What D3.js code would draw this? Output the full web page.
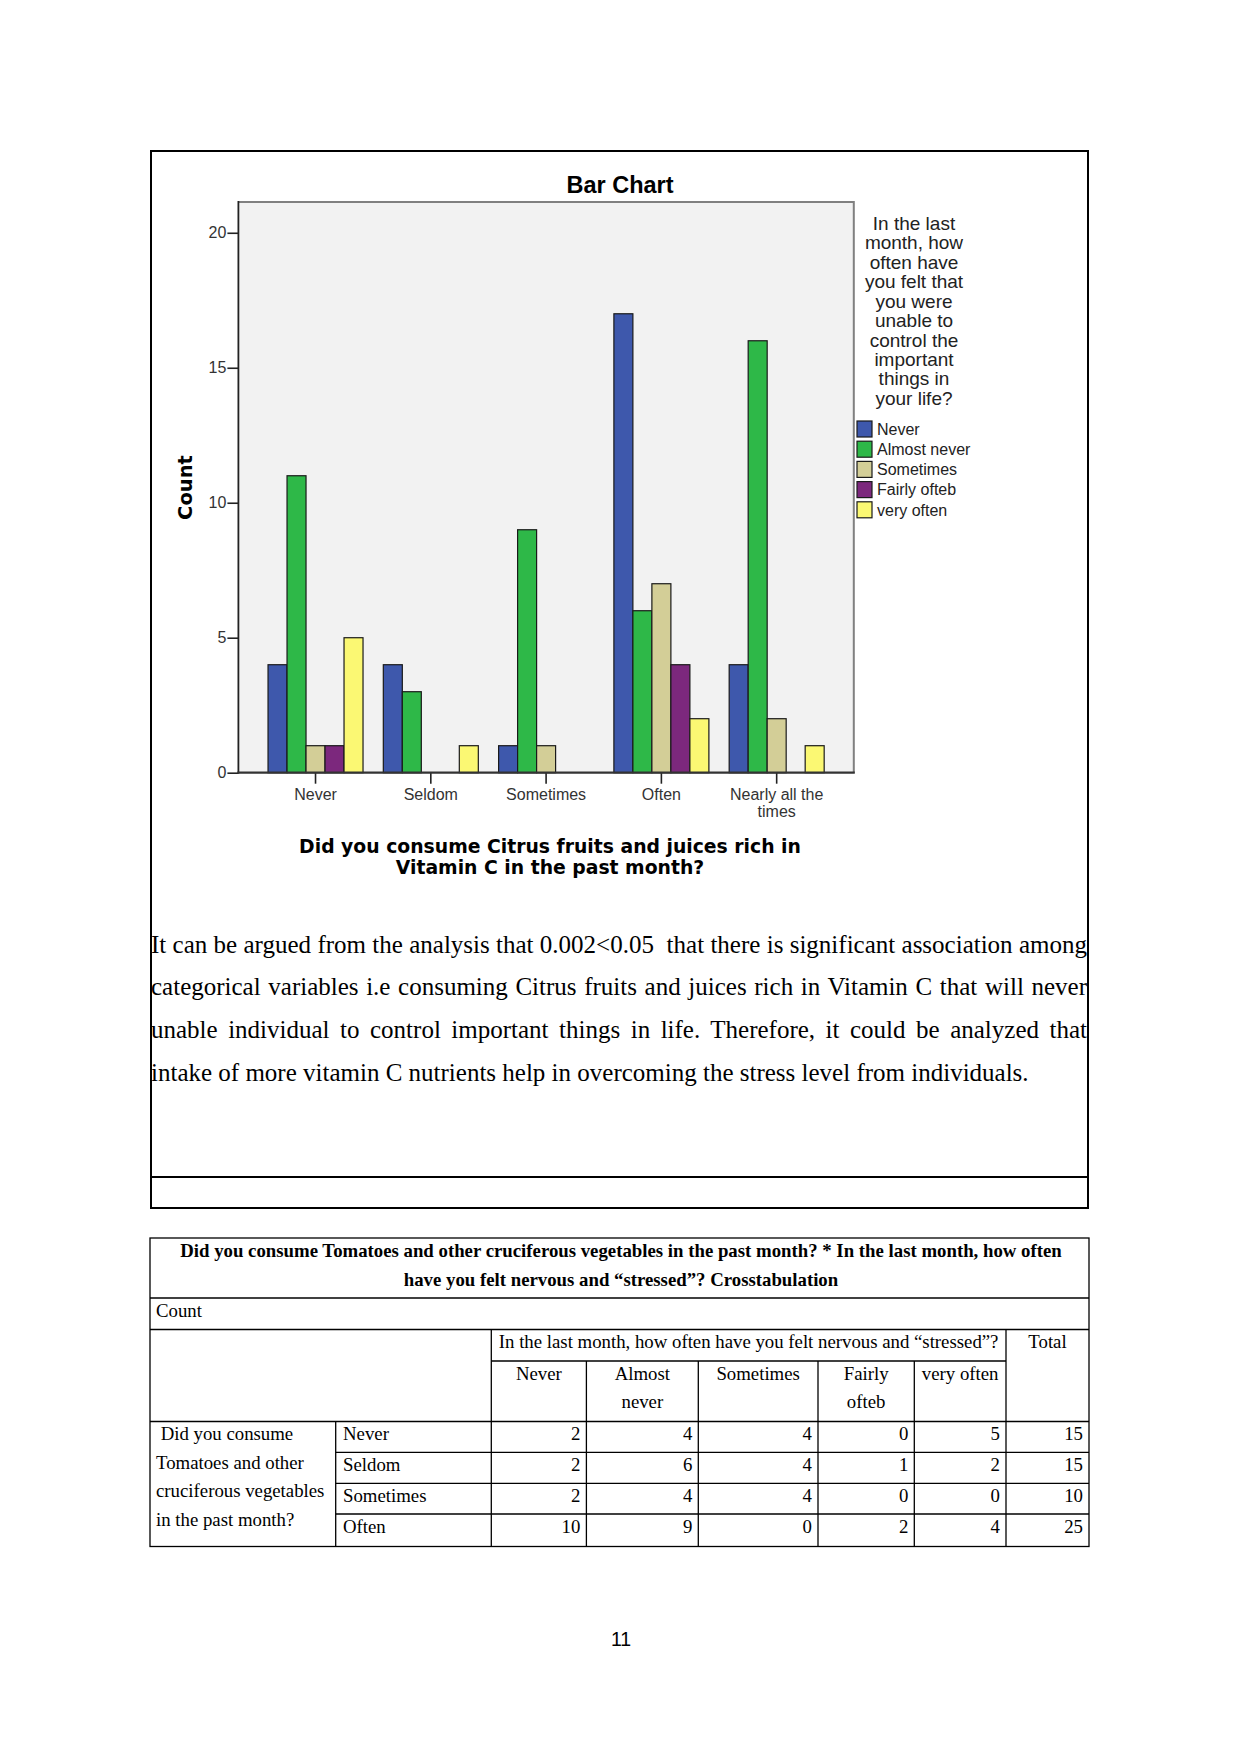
<!DOCTYPE html>
<html>
<head>
<meta charset="utf-8">
<script src="https://cdnjs.cloudflare.com/ajax/libs/d3/7.8.5/d3.min.js"></script>
<style>
  body { margin: 0; background: #fff; }
  svg { display: block; }
  .sans { font-family: "Liberation Sans", Arial, sans-serif; }
  .verd { font-family: "DejaVu Sans", Verdana, sans-serif; font-weight: bold; }
  .serif { font-family: "Liberation Serif", "Times New Roman", serif; }
</style>
</head>
<body>
<script>
// ---- chart data ----
var categories = ["Never", "Seldom", "Sometimes", "Often", "Nearly all the times"];
var seriesNames = ["Never", "Almost never", "Sometimes", "Fairly ofteb", "very often"];
var seriesColors = ["#3E58AC", "#2EB848", "#D3CE97", "#7C287D", "#FBF873"];
// counts[category][series]
var counts = [
    [4, 11, 1, 1, 5],
    [4, 3, 0, 0, 1],
    [1, 9, 1, 0, 0],
    [17, 6, 7, 4, 2],
    [4, 16, 2, 0, 1]
];
var yTicks = [0, 5, 10, 15, 20];
var chartTitle = "Bar Chart";
var yTitle = "Count";
var xTitle = ["Did you consume Citrus fruits and juices rich in", "Vitamin C in the past month?"];
var legendTitle = ["In the last", "month, how", "often have", "you felt that", "you were",
    "unable to", "control the", "important", "things in", "your life?"];

// ---- paragraph ----
var paragraph = [
    "It can be argued from the analysis that 0.002<0.05  that there is significant association among",
    "categorical variables i.e consuming Citrus fruits and juices rich in Vitamin C that will never",
    "unable individual to control important things in life. Therefore, it could be analyzed that",
    "intake of more vitamin C nutrients help in overcoming the stress level from individuals."
];

// ---- crosstab data ----
var tableTitle = ["Did you consume Tomatoes and other cruciferous vegetables in the past month? * In the last month, how often",
    "have you felt nervous and \u201cstressed\u201d? Crosstabulation"];
var tableStat = "Count";
var colGroupLabel = "In the last month, how often have you felt nervous and \u201cstressed\u201d?";
var colLabels = [["Never"], ["Almost", "never"], ["Sometimes"], ["Fairly", "ofteb"], ["very often"]];
var rowGroupLabel = [" Did you consume", "Tomatoes and other", "cruciferous vegetables", "in the past month?"];
var rowLabels = ["Never", "Seldom", "Sometimes", "Often"];
var tableValues = [
    [2, 4, 4, 0, 5],
    [2, 6, 4, 1, 2],
    [2, 4, 4, 0, 0],
    [10, 9, 0, 2, 4]
];
var rowTotals = [15, 15, 10, 25];
var pageNumber = "11";

var W = 1241, H = 1754;
var svg = d3.select("body").append("svg").attr("width", W).attr("height", H);

// outer frame round chart + text
svg.append("rect").attr("x", 151).attr("y", 151).attr("width", 937).attr("height", 1057)
    .attr("fill", "none").attr("stroke", "#000").attr("stroke-width", 2);
svg.append("line").attr("x1", 151).attr("x2", 1088).attr("y1", 1177).attr("y2", 1177)
    .attr("stroke", "#000").attr("stroke-width", 2);

// ---- bar chart ----
var plot = {left: 238.4, right: 853.8, top: 202, bottom: 772.7};

var x0 = d3.scaleBand().domain(categories).range([plot.left, plot.right])
    .paddingInner(0.176).paddingOuter(0.257);
var x1 = d3.scaleBand().domain(seriesNames).range([0, x0.bandwidth()]);
var y = d3.scaleLinear().domain([0, 21.14]).range([plot.bottom, plot.top]);

svg.append("rect").attr("x", plot.left).attr("y", plot.top)
    .attr("width", plot.right - plot.left).attr("height", plot.bottom - plot.top)
    .attr("fill", "#F2F2F2");
// top and right border
svg.append("path")
    .attr("d", "M" + plot.left + "," + plot.top + "H" + plot.right + "V" + plot.bottom)
    .attr("fill", "none").attr("stroke", "#808080").attr("stroke-width", 2);

svg.append("text").attr("class", "sans").attr("x", 620).attr("y", 192.5)
    .attr("text-anchor", "middle").attr("font-size", 23.5).attr("font-weight", "bold")
    .text(chartTitle);

var groups = svg.selectAll("g.grp").data(categories).enter().append("g")
    .attr("class", "grp")
    .attr("transform", function (d) { return "translate(" + x0(d) + ",0)"; });

groups.selectAll("rect").data(function (d, i) {
        return counts[i].map(function (v, j) { return {s: seriesNames[j], v: v, c: seriesColors[j]}; })
            .filter(function (e) { return e.v > 0; });
    })
    .enter().append("rect")
    .attr("x", function (d) { return x1(d.s); })
    .attr("y", function (d) { return y(d.v); })
    .attr("width", x1.bandwidth())
    .attr("height", function (d) { return y(0) - y(d.v); })
    .attr("fill", function (d) { return d.c; })
    .attr("stroke", "#1a1a1a").attr("stroke-width", 1.2);

// y axis
var yAxis = svg.append("g").attr("transform", "translate(" + plot.left + ",0)")
    .call(d3.axisLeft(y).tickValues(yTicks).tickSize(11).tickPadding(1));
yAxis.select(".domain").remove();
yAxis.selectAll(".tick line").attr("stroke", "#222").attr("stroke-width", 1.6);
yAxis.selectAll(".tick text").attr("class", "sans").attr("font-size", 16).attr("fill", "#333");
svg.append("line").attr("x1", plot.left).attr("x2", plot.left)
    .attr("y1", plot.top - 1).attr("y2", plot.bottom + 1)
    .attr("stroke", "#222").attr("stroke-width", 1.8);

// x axis
var xAxis = svg.append("g").attr("transform", "translate(0," + plot.bottom + ")")
    .call(d3.axisBottom(x0).tickSize(11).tickFormat(""));
xAxis.select(".domain").remove();
xAxis.selectAll(".tick line").attr("stroke", "#222").attr("stroke-width", 1.6);
svg.append("line").attr("x1", plot.left - 1).attr("x2", plot.right + 1)
    .attr("y1", plot.bottom).attr("y2", plot.bottom)
    .attr("stroke", "#333").attr("stroke-width", 2.2);

// category labels, wrapped when long
categories.forEach(function (c) {
    var lines = c.length > 14 ? [c.slice(0, c.lastIndexOf(" ")), c.slice(c.lastIndexOf(" ") + 1)] : [c];
    var t = svg.append("text").attr("class", "sans").attr("font-size", 16).attr("fill", "#333")
        .attr("text-anchor", "middle");
    lines.forEach(function (l, i) {
        t.append("tspan").attr("x", x0(c) + x0.bandwidth() / 2).attr("y", 800 + i * 17).text(l);
    });
});

svg.append("text").attr("class", "verd").attr("font-size", 19.5)
    .attr("transform", "translate(185,487.5) rotate(-90)")
    .attr("text-anchor", "middle").attr("dy", "0.36em").text(yTitle);

xTitle.forEach(function (l, i) {
    svg.append("text").attr("class", "verd").attr("font-size", 18.8)
        .attr("x", 550).attr("y", 852.7 + i * 21.5).attr("text-anchor", "middle").text(l);
});

// legend
legendTitle.forEach(function (l, i) {
    svg.append("text").attr("class", "sans").attr("font-size", 19).attr("fill", "#222")
        .attr("x", 914).attr("y", 229.8 + i * 19.45).attr("text-anchor", "middle").text(l);
});
var leg = svg.selectAll("g.leg").data(seriesNames).enter().append("g").attr("class", "leg")
    .attr("transform", function (d, i) { return "translate(857," + (429 + i * 20.2) + ")"; });
leg.append("rect").attr("x", 0).attr("y", -8).attr("width", 15).attr("height", 16)
    .attr("fill", function (d, i) { return seriesColors[i]; })
    .attr("stroke", "#1a1a1a").attr("stroke-width", 1.2);
leg.append("text").attr("class", "sans").attr("font-size", 16).attr("fill", "#222")
    .attr("x", 20).attr("y", 5.7).text(function (d) { return d; });

// ---- justified paragraph ----
var paraLeft = 151, paraRight = 1087;
paragraph.forEach(function (l, i) {
    var t = svg.append("text").attr("class", "serif").attr("font-size", 25)
        .attr("x", paraLeft).attr("y", 952.5 + i * 42.8)
        .style("white-space", "pre").text(l);
    if (i < paragraph.length - 1) {
        var len = t.node().getComputedTextLength();
        var spaces = l.split(" ").length - 1;
        t.attr("word-spacing", (paraRight - paraLeft - len) / spaces);
    }
});

// ---- crosstab ----
var tb = {left: 150, right: 1089, top: 1238, titleBot: 1298, statBot: 1329.5,
    headMid: 1361, headBot: 1421.5, bottom: 1546.5};
var cols = [150, 335.7, 491.3, 586.4, 698.3, 818, 914.3, 1006, 1089];
var rowEdges = [1421.5, 1452.3, 1483.3, 1514, 1546.5];
var tlines = svg.append("g").attr("stroke", "#000").attr("stroke-width", 1.3);
function seg(x1_, y1_, x2_, y2_) {
    tlines.append("line").attr("x1", x1_).attr("y1", y1_).attr("x2", x2_).attr("y2", y2_);
}
tlines.append("rect").attr("x", tb.left).attr("y", tb.top)
    .attr("width", tb.right - tb.left).attr("height", tb.bottom - tb.top).attr("fill", "none");
seg(tb.left, tb.titleBot, tb.right, tb.titleBot);
seg(tb.left, tb.statBot, tb.right, tb.statBot);
seg(cols[2], tb.headMid, cols[7], tb.headMid);
seg(tb.left, tb.headBot, tb.right, tb.headBot);
rowEdges.slice(1, -1).forEach(function (ry) { seg(cols[1], ry, tb.right, ry); });
seg(cols[1], tb.headBot, cols[1], tb.bottom);
seg(cols[2], tb.statBot, cols[2], tb.bottom);
seg(cols[7], tb.statBot, cols[7], tb.bottom);
[3, 4, 5, 6].forEach(function (k) { seg(cols[k], tb.headMid, cols[k], tb.bottom); });

var fs = 18.8;
tableTitle.forEach(function (l, i) {
    svg.append("text").attr("class", "serif").attr("font-size", fs).attr("font-weight", "bold")
        .attr("x", 621).attr("y", 1257 + i * 28.6).attr("text-anchor", "middle").text(l);
});
svg.append("text").attr("class", "serif").attr("font-size", fs)
    .attr("x", 156).attr("y", 1316.5).text(tableStat);
svg.append("text").attr("class", "serif").attr("font-size", fs)
    .attr("x", (cols[2] + cols[7]) / 2).attr("y", 1348).attr("text-anchor", "middle").text(colGroupLabel);
svg.append("text").attr("class", "serif").attr("font-size", fs)
    .attr("x", (cols[7] + cols[8]) / 2).attr("y", 1348).attr("text-anchor", "middle").text("Total");
colLabels.forEach(function (lines, k) {
    lines.forEach(function (l, i) {
        svg.append("text").attr("class", "serif").attr("font-size", fs)
            .attr("x", (cols[k + 2] + cols[k + 3]) / 2).attr("y", 1380 + i * 28.4)
            .attr("text-anchor", "middle").text(l);
    });
});
rowGroupLabel.forEach(function (l, i) {
    svg.append("text").attr("class", "serif").attr("font-size", fs).style("white-space", "pre")
        .attr("x", 156).attr("y", 1440 + i * 28.7).text(l);
});
rowLabels.forEach(function (r, ri) {
    var by = rowEdges[ri] + 18.5;
    svg.append("text").attr("class", "serif").attr("font-size", fs)
        .attr("x", 343).attr("y", by).text(r);
    tableValues[ri].concat([rowTotals[ri]]).forEach(function (v, k) {
        svg.append("text").attr("class", "serif").attr("font-size", fs)
            .attr("x", cols[k + 3] - 6).attr("y", by).attr("text-anchor", "end").text(v);
    });
});

svg.append("text").attr("class", "sans").attr("font-size", 19.5)
    .attr("x", 621).attr("y", 1646).attr("text-anchor", "middle").text(pageNumber);
</script>
</body>
</html>
